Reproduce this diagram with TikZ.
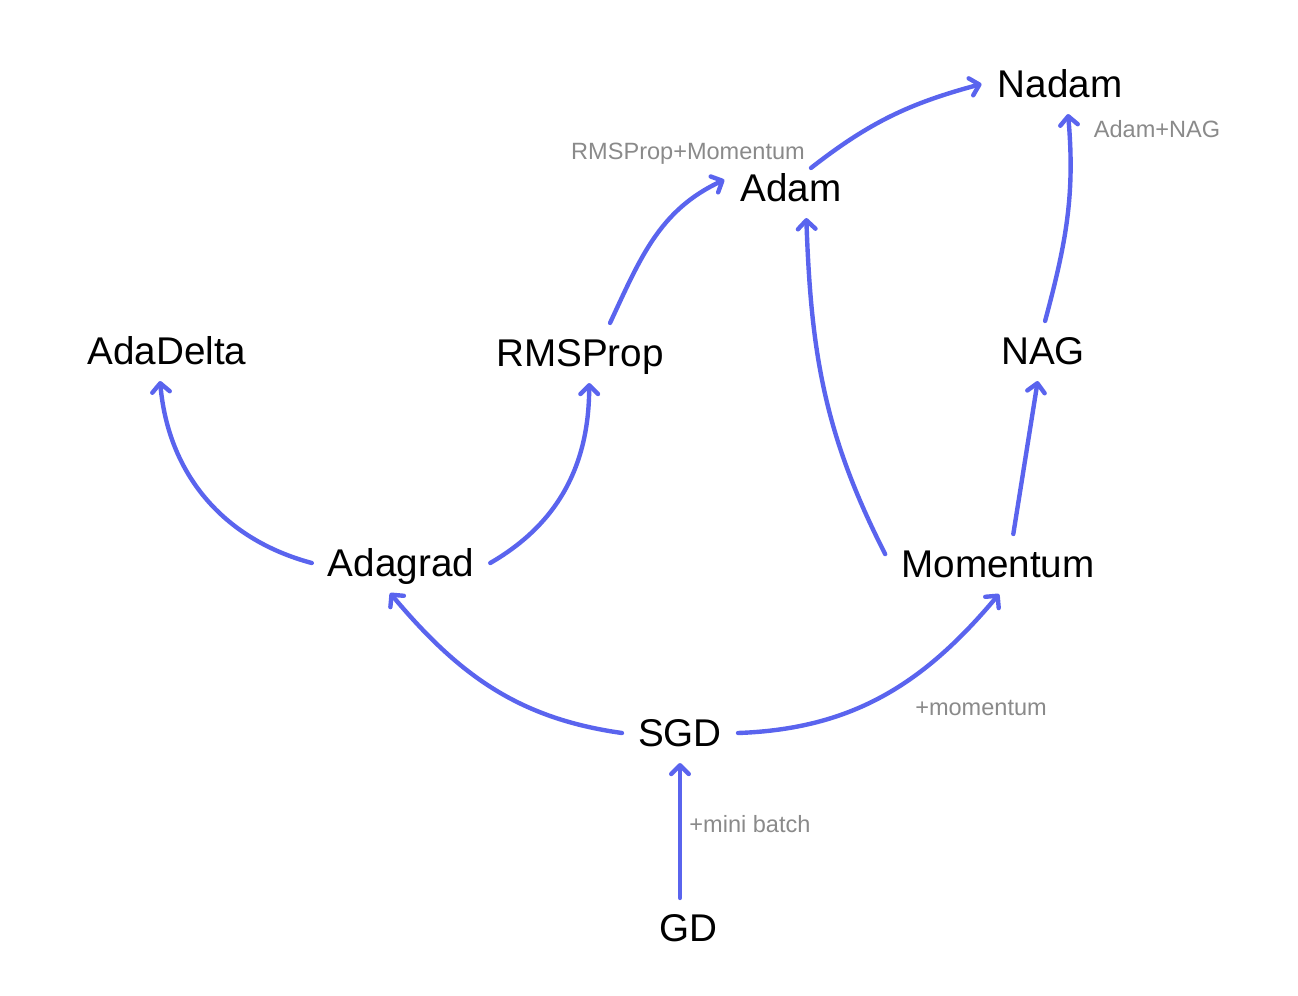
\documentclass[tikz,border=0pt]{standalone}
\usepackage{fontspec}
\setmainfont{Liberation Sans}
\usetikzlibrary{arrows.meta}
\definecolor{flowblue}{RGB}{90,100,238}
\definecolor{notegray}{RGB}{138,138,138}

\begin{document}
\begin{tikzpicture}[
    x=0.02cm, y=0.02cm,
    algo/.style={font=\fontsize{22}{26}\selectfont, text height=15.8pt, text depth=0pt, inner sep=9pt},
    note/.style={font=\fontsize{13.4}{16}\selectfont, text=notegray, text height=9.6pt, text depth=0pt, inner sep=0pt},
    flow/.style={draw=flowblue, line width=2.5pt, line cap=round, -{Straight Barb[length=5pt, width=10pt, round]}}
]
    \useasboundingbox (0,0) rectangle (1298,995);

    \node[algo] (nadam)    at (1060,911) {Nadam};
    \node[algo] (adam)     at (791,807)  {Adam};
    \node[algo] (adadelta) at (167,644)  {AdaDelta};
    \node[algo] (rmsprop)  at (580,642)  {RMSProp};
    \node[algo] (nag)      at (1043,644) {NAG};
    \node[algo] (adagrad)  at (401,432)  {Adagrad};
    \node[algo] (momentum) at (998,431)  {Momentum};
    \node[algo] (sgd)      at (680,262)  {SGD};
    \node[algo] (gd)       at (688,67)   {GD};

    \node[note] (rmsmom)  at (688,844)  {RMSProp+Momentum};
    \node[note] (adamnag) at (1157,866) {Adam+NAG};
    \node[note] (plusmom) at (981,288)  {+momentum};
    \node[note] (minib)   at (750,171)  {+mini batch};

    \draw[flow] (gd.north -| sgd) -- (sgd.south);
    \draw[flow] (sgd.west) to[out=172, in=-50] (adagrad.250);
    \draw[flow] (sgd.east) to[out=2, in=-130] (momentum.-88);
    \draw[flow] (adagrad.west) to[out=165, in=-85] (adadelta.257);
    \draw[flow] (adagrad.east) to[out=30, in=-90] (rmsprop.287);
    \draw[flow] (rmsprop.45) to[out=65, in=205] (adam.173);
    \draw[flow] (momentum.175) to[out=117, in=-88] (adam.297);
    \draw[flow] (momentum.63) -- (nag.260);
    \draw[flow] (nag.86) to[out=75, in=-85] (nadam.285);
    \draw[flow] ([shift={(20,-10)}]adam.north) to[out=38, in=195] (nadam.west);
\end{tikzpicture}
\end{document}
